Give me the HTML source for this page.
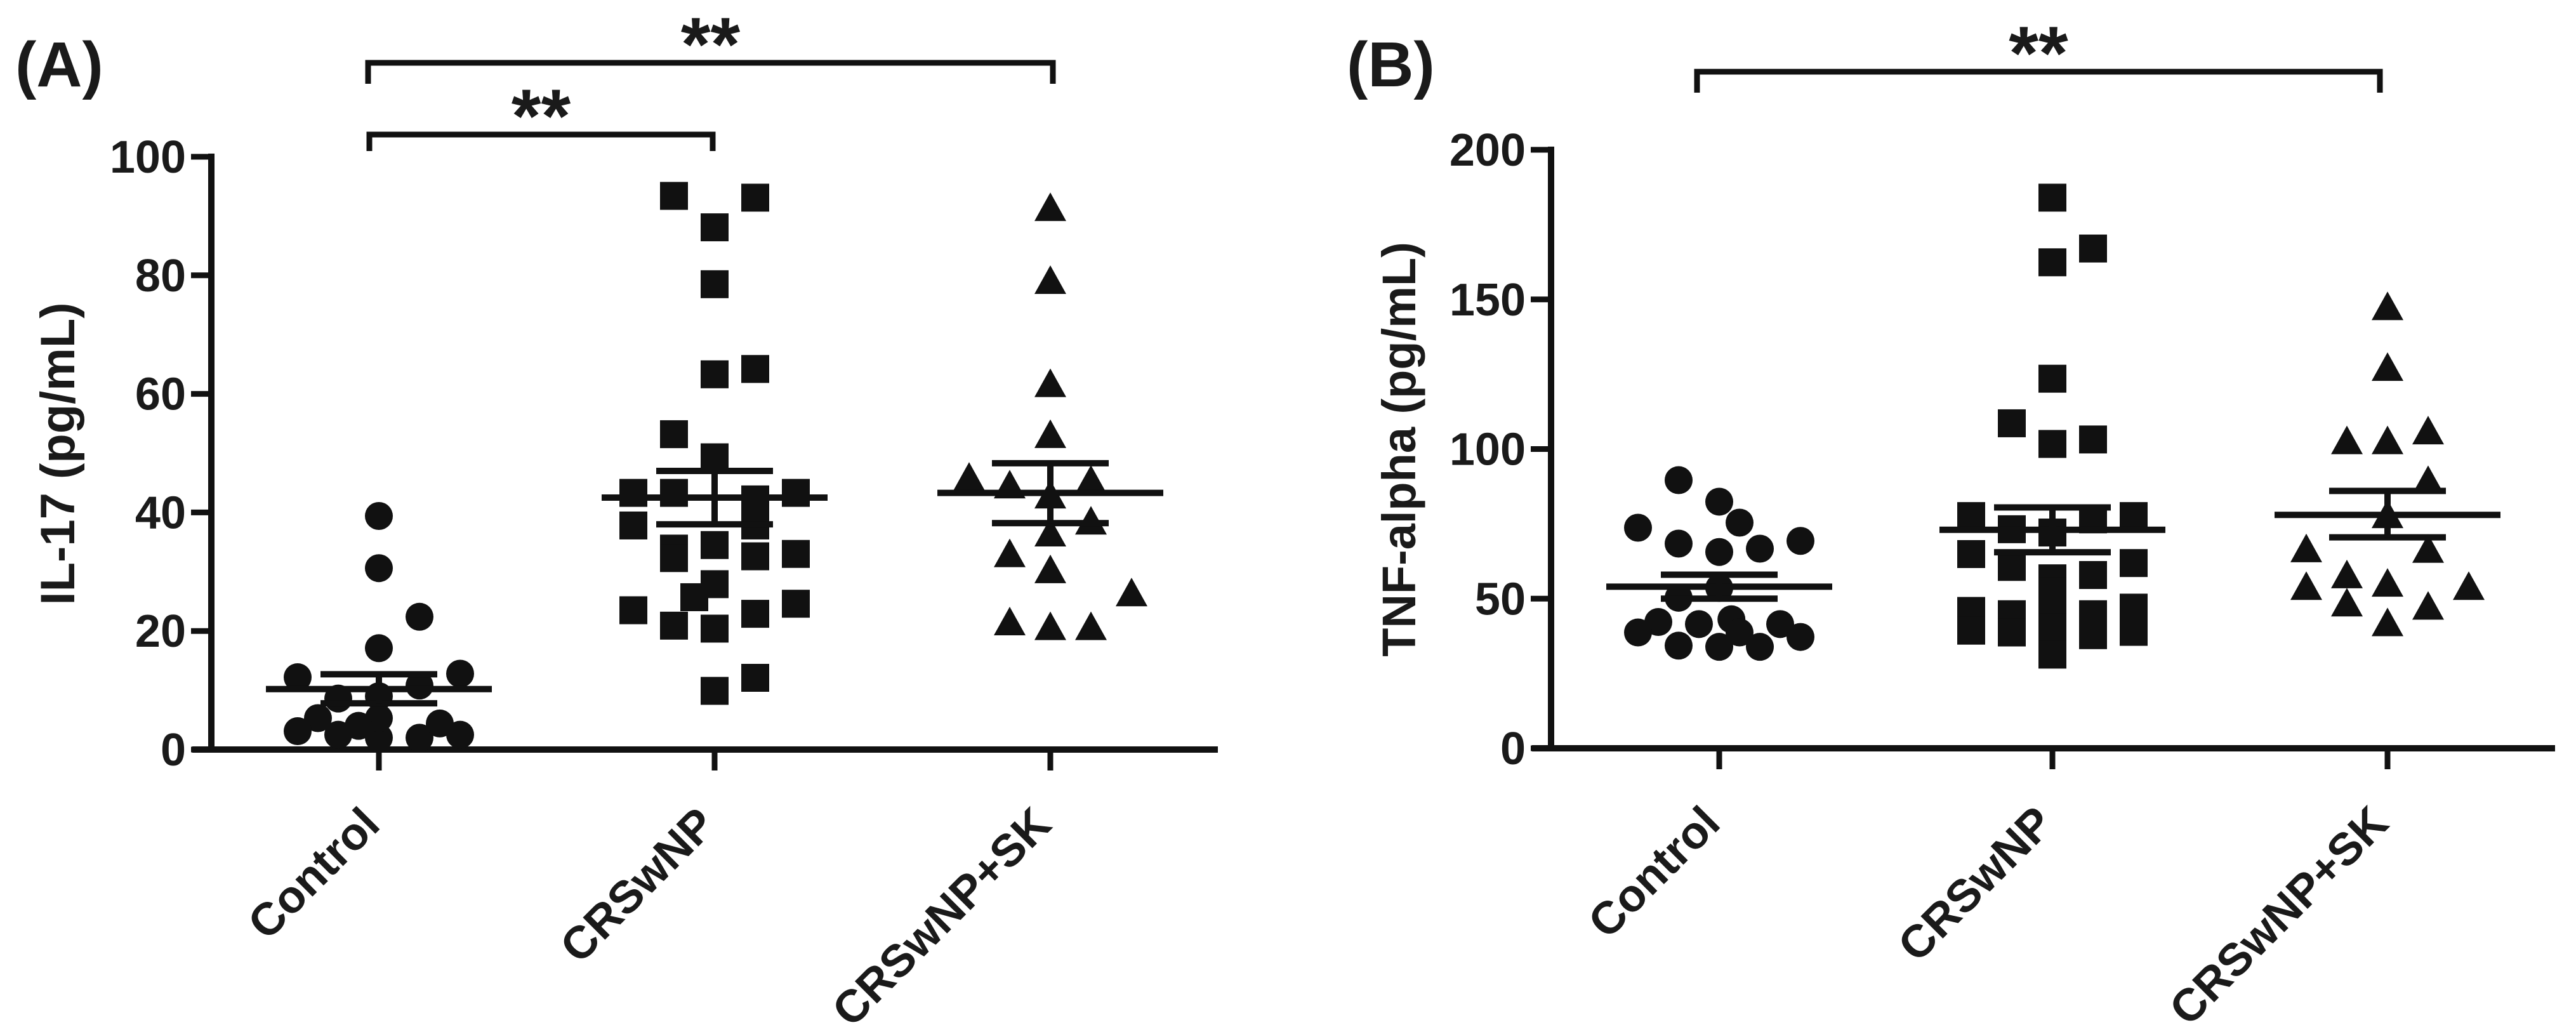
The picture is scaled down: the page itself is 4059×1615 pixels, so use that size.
<!DOCTYPE html>
<html><head><meta charset="utf-8"><style>
html,body{margin:0;padding:0;background:#fff}
svg{display:block}
text{font-family:"Liberation Sans",sans-serif;font-weight:bold;fill:#1a1a1a}
</style></head><body>
<svg id="fig" width="4059" height="1615" viewBox="0 0 4059 1615" xmlns="http://www.w3.org/2000/svg"></svg>
<script>
const categories = ["Control","CRSwNP","CRSwNP+SK"];
// Panel A IL-17 values
const aControl = [39.4,30.6,22.4,17.1,12.2,12.8,8.6,10.8,9,5.3,3.1,2.5,2,2,4.4,2.5,5.3,4];
const aControlJ = [0,0,1,0,-2,2,-1,1,0,-1.5,-2,-1,0,1,1.5,2,0,-0.5];
const aCRS = [93.4,93.1,88.1,78.5,63.3,64.2,53.2,49.3,43.3,43.3,42.2,43.3,37.8,37.8,33.9,34.5,32.3,32.6,33,27.9,25.7,23.5,22.9,24.6,20.9,20.4,12.1,9.9];
const aCRSJ = [-1,1,0,0,0,1,-1,0,-2,-1,1,2,-2,1,-1,0,-1,1,2,0,-0.5,-2,1,2,-1,0,1,0];
const aSK = [91.2,78.9,61.5,52.9,45.7,44.4,45.2,42.7,38.3,36.3,32.8,30.1,26.2,21.3,20.5,20.5];
const aSKJ = [0,0,0,0,-2,-1,1,0,1,0,-1,0,2,-1,0,1];
const aMeans = [10.2,42.5,43.3];
const aSemHi = [12.7,47,48.3];
const aSemLo = [7.8,38,38.2];
const aTicks = [0,20,40,60,80,100];
// Panel B TNF-alpha values
const bControl = [89.6,82.4,73.7,75.4,68.4,65.6,66.7,69.3,50.3,53.6,42.2,41.5,43.1,41.5,38.7,38.7,37.2,34.3,33.9,33.9];
const bControlJ = [-1,0,-2,0.5,-1,0,1,2,-1,0,-1.5,-0.5,0.3,1.5,-2,0.5,2,-1,0,1];
const bCRS = [184,167,162.4,123.5,108.6,101.7,103.2,77.6,73.2,77.6,76.5,64.9,60.6,72.1,61.9,56.8,57.9,52.5,45.9,44.8,45.9,44.8,47,39.3,38.7,40.4,37.8,38.9,31.3];
const bCRSJ = [0,1,0,0,-1,0,1,-2,-1,2,1,-2,-1,0,2,0,1,0,-2,-1,0,1,2,-2,-1,0,1,2,0];
const bSK = [147.1,126.8,102.3,102.3,105.6,89,77.6,66.2,66,53.6,57.5,54.7,53.6,48.1,47,41.5];
const bSKJ = [0,0,-1,0,1,1,0,-2,1,-2,-1,0,2,-1,1,0];
const bMeans = [54,73,78];
const bSemHi = [58,80.5,86];
const bSemLo = [50,65.5,70.5];
const bTicks = [0,50,100,150,200];

const NS="http://www.w3.org/2000/svg";
const svg=document.getElementById('fig');
function mk(tag,attrs,parent){const e=document.createElementNS(NS,tag);for(const k in attrs)e.setAttribute(k,attrs[k]);(parent||svg).appendChild(e);return e;}

function panel(o){
  const g=mk('g',{});
  
  
  const yS=v=>o.y0-(v/o.max)*(o.y0-o.yTop);
  const xS=i=>o.catX[i];
  const ya=mk('line',{x1:o.ax,y1:o.yTop-5,x2:o.ax,y2:o.y0+5,stroke:'#111','stroke-width':10},g);
  
  
  const xa=mk('line',{x1:o.ax-30,y1:o.y0,x2:o.xEnd,y2:o.y0,stroke:'#111','stroke-width':10},g);
  
  
  o.ticks.forEach(t=>{
    const y=yS(t);
    mk('line',{x1:o.ax-32,y1:y,x2:o.ax,y2:y,stroke:'#111','stroke-width':9},g);
    const tx=mk('text',{x:o.ax-40,y:y+25,'text-anchor':'end','font-size':72},g);
    tx.textContent=t;
    
    
  });
  categories.forEach((c,i)=>{
    mk('line',{x1:xS(i),y1:o.y0,x2:xS(i),y2:o.y0+33,stroke:'#111','stroke-width':9},g);
    const tx=mk('text',{x:0,y:0,'text-anchor':'end','font-size':72,transform:`translate(${xS(i)+5},${o.y0+122}) rotate(-45)`},g);
    tx.textContent=c;
    
    
  });
  const yt=mk('text',{x:0,y:0,'text-anchor':'middle','font-size':o.ytSize,transform:`translate(${o.ytX},${o.ytY}) rotate(-90)`},g);
  yt.textContent=o.ytitle;
  
  
  const pl=mk('text',{x:o.plX,y:o.plY,'font-size':100},g);
  pl.textContent=o.label;
  
  
  const sp=64;
  o.series.forEach((s,i)=>{
    s.vals.forEach((v,k)=>{
      const cx=xS(i)+s.jit[k]*sp, cy=yS(v);
      let e;
      if(s.shape==='circle') e=mk('circle',{cx:cx,cy:cy,r:22,fill:'#111'},g);
      else if(s.shape==='square') e=mk('rect',{x:cx-22,y:cy-22,width:44,height:44,fill:'#111'},g);
      else e=mk('polygon',{points:`${cx},${cy-26} ${cx+25},${cy+19} ${cx-25},${cy+19}`,fill:'#111'},g);
      
      
    });
  });
  o.means.forEach((m,i)=>{
    const x=xS(i);
    const ml=mk('line',{x1:x-178,y1:yS(m),x2:x+178,y2:yS(m),stroke:'#111','stroke-width':10},g);
    
    
    [o.hi[i],o.lo[i]].forEach(v=>{
      const s=mk('line',{x1:x-92,y1:yS(v),x2:x+92,y2:yS(v),stroke:'#111','stroke-width':10},g);
      
      
    });
    mk('line',{x1:x,y1:yS(o.hi[i]),x2:x,y2:yS(o.lo[i]),stroke:'#111','stroke-width':10},g);
  });
  o.brackets.forEach(b=>{
    const p=mk('path',{d:`M${b.x1},${b.yb} L${b.x1},${b.y} L${b.x2},${b.y} L${b.x2},${b.yb}`,fill:'none',stroke:'#111','stroke-width':9},g);
    
    
    const st=mk('text',{x:(b.x1+b.x2)/2,y:b.y+12,'text-anchor':'middle','font-size':120},g);
    st.textContent='**';
    
    
  });
}

panel({name:'panel-a',label:'(A)',plX:24,plY:136,ax:333,yTop:247,y0:1181,xEnd:1919,max:100,ticks:aTicks,
  catX:[597,1126,1655],ytitle:'IL-17 (pg/mL)',ytX:117,ytY:715,ytSize:76,
  series:[{vals:aControl,jit:aControlJ,shape:'circle'},{vals:aCRS,jit:aCRSJ,shape:'square'},{vals:aSK,jit:aSKJ,shape:'triangle'}],
  means:aMeans,hi:aSemHi,lo:aSemLo,
  brackets:[{x1:580,x2:1659,y:99,yb:132},{x1:582,x2:1123,y:212,yb:238}]});
panel({name:'panel-b',label:'(B)',plX:2122,plY:136,ax:2444,yTop:236,y0:1179,xEnd:4026,max:200,ticks:bTicks,
  catX:[2709,3234,3762],ytitle:'TNF-alpha (pg/mL)',ytX:2230,ytY:708,ytSize:74,
  series:[{vals:bControl,jit:bControlJ,shape:'circle'},{vals:bCRS,jit:bCRSJ,shape:'square'},{vals:bSK,jit:bSKJ,shape:'triangle'}],
  means:bMeans,hi:bSemHi,lo:bSemLo,
  brackets:[{x1:2674,x2:3750,y:113,yb:146}]});
</script>
</body></html>
